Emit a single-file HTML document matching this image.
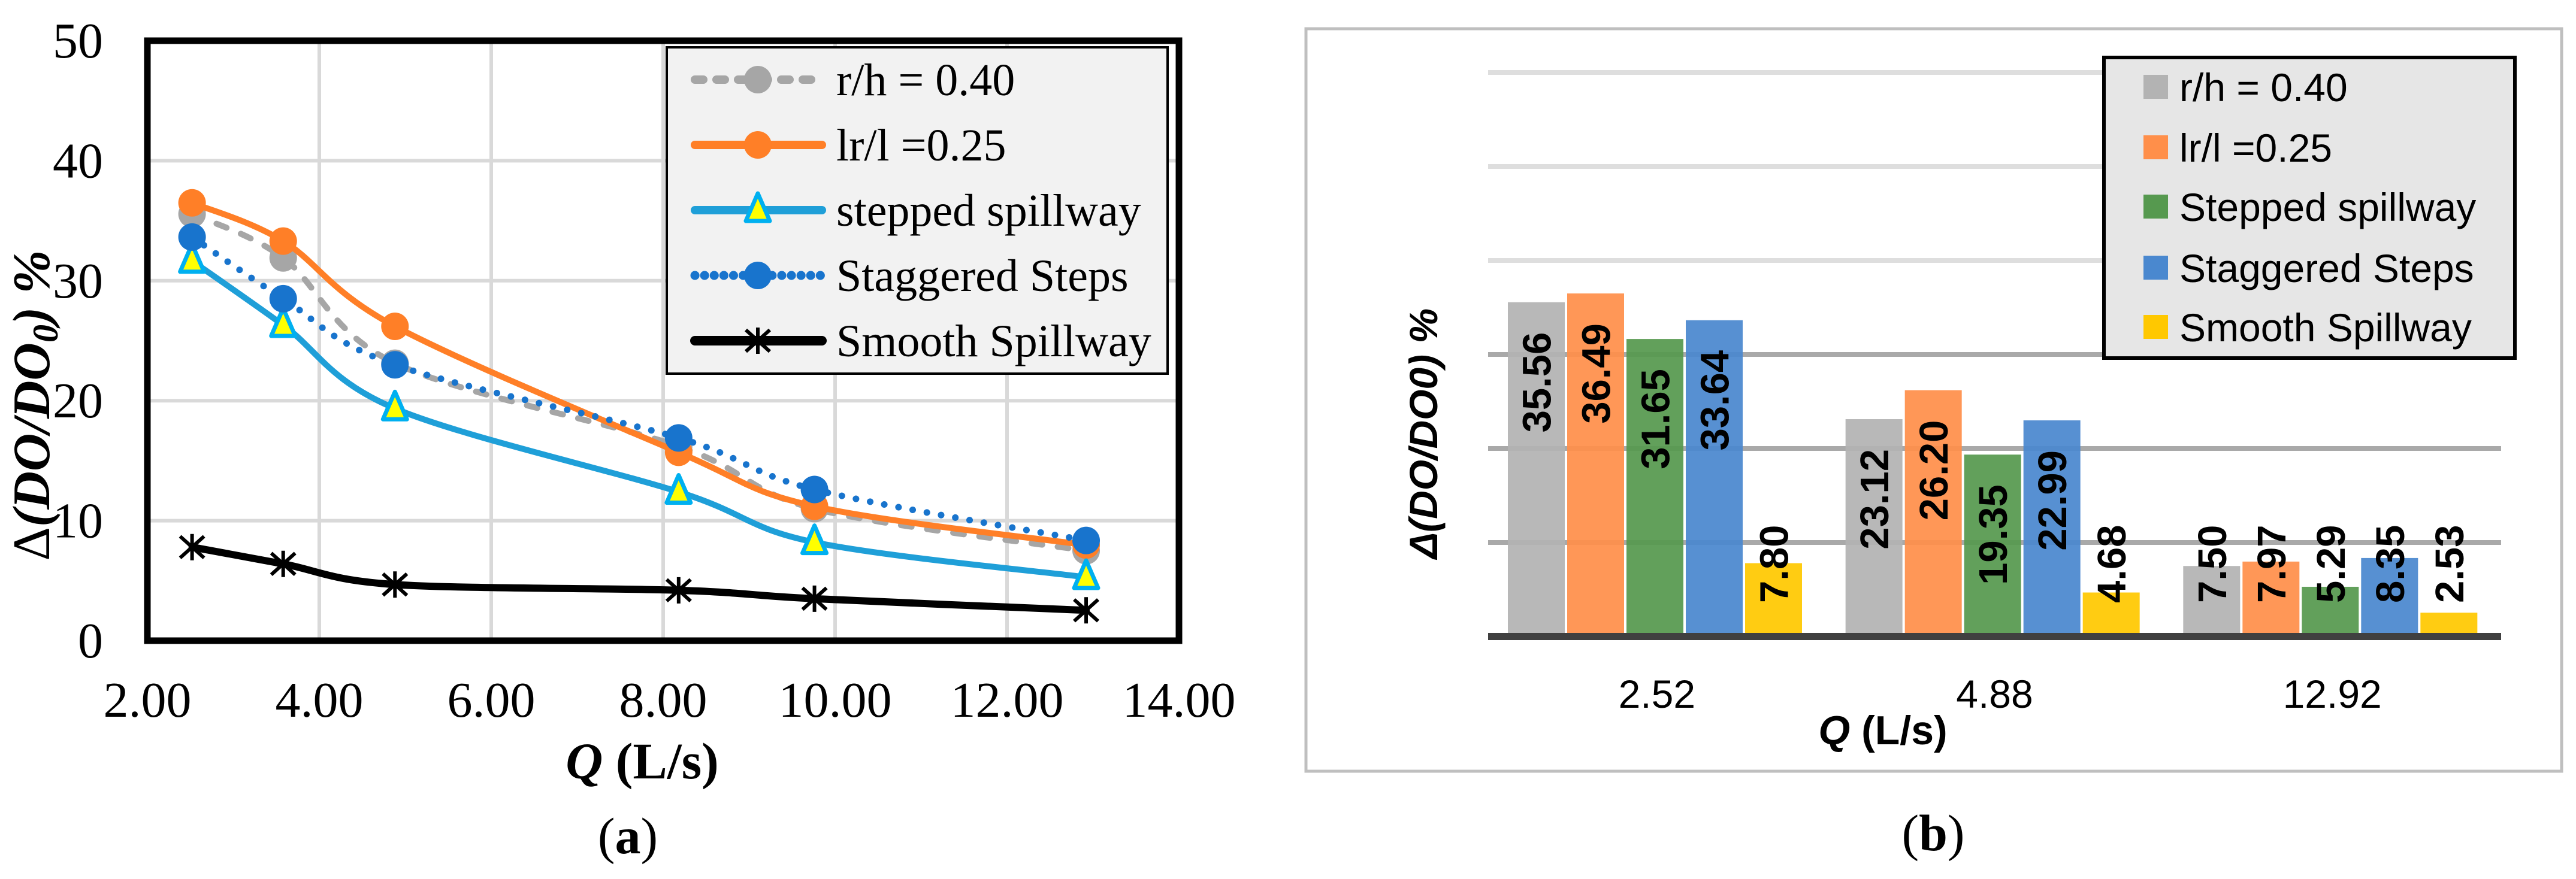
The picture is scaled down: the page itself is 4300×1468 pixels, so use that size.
<!DOCTYPE html>
<html><head><meta charset="utf-8"><style>
html,body{margin:0;padding:0;background:#fff;}
svg{display:block;}
</style></head><body>
<svg id="fig" xmlns="http://www.w3.org/2000/svg" width="4300" height="1468" viewBox="0 0 4300 1468">
<rect width="4300" height="1468" fill="#fff"/>
<g id="left"></g>
<g id="right"></g>
</svg>
<script>
// ---------- chart (a) data ----------
const lineX = [2.52, 3.58, 4.88, 8.18, 9.76, 12.92];
const rhVals = [35.56, 31.9, 23.12, 16.2, 11.0, 7.50];
const lrVals = [36.49, 33.3, 26.20, 15.7, 11.2, 7.97];
const stepVals = [31.65, 26.3, 19.35, 12.4, 8.2, 5.29];
const stagVals = [33.64, 28.5, 22.99, 16.9, 12.6, 8.35];
const smoothVals = [7.80, 6.4, 4.68, 4.2, 3.5, 2.53];
const xTicksA = [2, 4, 6, 8, 10, 12, 14];
const xTickLabelsA = ["2.00","4.00","6.00","8.00","10.00","12.00","14.00"];
const yTicksA = [0, 10, 20, 30, 40, 50];
const legendA = ["r/h = 0.40","lr/l =0.25","stepped spillway","Staggered Steps","Smooth Spillway"];
// ---------- chart (b) data ----------
const barCats = ["2.52","4.88","12.92"];
const barRh = [35.56, 23.12, 7.50];
const barLr = [36.49, 26.20, 7.97];
const barStep = [31.65, 19.35, 5.29];
const barStag = [33.64, 22.99, 8.35];
const barSmooth = [7.80, 4.68, 2.53];
const yTicksB = [10, 20, 30, 40, 50, 60];
const legendB = ["r/h = 0.40","lr/l =0.25","Stepped spillway","Staggered Steps","Smooth Spillway"];

const NS = "http://www.w3.org/2000/svg";
function mk(tag, attrs, parent){ const e=document.createElementNS(NS,tag); for(const k in attrs) e.setAttribute(k,attrs[k]); if(parent) parent.appendChild(e); return e; }

// ===== chart a =====
const L = document.getElementById('left');
const ax = {x0:246, x1:1968, y0:1070, y1:68};
const xA = v => ax.x0 + (v-2)/(14-2)*(ax.x1-ax.x0);
const yA = v => ax.y0 - v/50*(ax.y0-ax.y1);

xTicksA.forEach((t,i)=>{
  if(i>0 && i<xTicksA.length-1){
    const g=mk('line',{x1:xA(t),x2:xA(t),y1:ax.y1,y2:ax.y0,stroke:'#d9d9d9','stroke-width':6},L);
    
    
  }
  const tl=mk('text',{x:xA(t),y:1197,'text-anchor':'middle','font-family':'Liberation Serif, serif','font-size':84,fill:'#000'},L);
  tl.textContent=xTickLabelsA[i];
  
  
});
yTicksA.forEach(t=>{
  if(t>0 && t<50){
    const g=mk('line',{x1:ax.x0,x2:ax.x1,y1:yA(t),y2:yA(t),stroke:'#d9d9d9','stroke-width':6},L);
    
    
  }
  const tl=mk('text',{x:172,y:yA(t)+28,'text-anchor':'end','font-family':'Liberation Serif, serif','font-size':84,fill:'#000'},L);
  tl.textContent=String(t);
  
  
});

function smoothPath(pts){
  let d=`M${pts[0][0]},${pts[0][1]}`;
  for(let i=0;i<pts.length-1;i++){
    const p0=pts[Math.max(0,i-1)],p1=pts[i],p2=pts[i+1],p3=pts[Math.min(pts.length-1,i+2)];
    const c1=[p1[0]+(p2[0]-p0[0])/6,p1[1]+(p2[1]-p0[1])/6];
    const c2=[p2[0]-(p3[0]-p1[0])/6,p2[1]-(p3[1]-p1[1])/6];
    d+=` C${c1[0]},${c1[1]} ${c2[0]},${c2[1]} ${p2[0]},${p2[1]}`;
  }
  return d;
}
function circle(p,x,y,c){ return mk('circle',{cx:x,cy:y,r:23,fill:c},p); }
function tri(p,x,y){ return mk('polygon',{points:`${x},${y-28} ${x-20},${y+18} ${x+20},${y+18}`,fill:'#ffff00',stroke:'#00b0f0','stroke-width':7,'stroke-linejoin':'round'},p); }
function star(p,x,y){
  const g=mk('g',{stroke:'#000','stroke-width':6,fill:'none'},p);
  mk('line',{x1:x,y1:y-22,x2:x,y2:y+22},g);
  mk('line',{x1:x-20,y1:y-18,x2:x+20,y2:y+18},g);
  mk('line',{x1:x-20,y1:y+18,x2:x+20,y2:y-18},g);
  return g;
}
const seriesA = [
  {name:'series-rh', vals:rhVals, color:'#a6a6a6', dash:'18 26', w:10, mark:'c'},
  {name:'series-lr', vals:lrVals, color:'#ff7f27', dash:null, w:10, mark:'c'},
  {name:'series-stepped', vals:stepVals, color:'#1f9fd8', dash:null, w:10, mark:'t'},
  {name:'series-staggered', vals:stagVals, color:'#1874cd', dash:'0.1 24', w:11, mark:'c'},
  {name:'series-smooth', vals:smoothVals, color:'#000', dash:null, w:12, mark:'s'}
];
seriesA.forEach(s=>{
  const g=mk('g',{},L);
  
  
  const pts=s.vals.map((v,i)=>[xA(lineX[i]),yA(v)]);
  const path=mk('path',{d:smoothPath(pts),fill:'none',stroke:s.color,'stroke-width':s.w,'stroke-linecap':'round','stroke-linejoin':'round'},g);
  if(s.dash) path.setAttribute('stroke-dasharray',s.dash);
  
  
  pts.forEach(p=>{
    let m;
    if(s.mark==='c') m=circle(g,p[0],p[1],s.color);
    else if(s.mark==='t') m=tri(g,p[0],p[1]);
    else m=star(g,p[0],p[1]);
    
    
  });
});
// plot border
const brd=mk('rect',{x:ax.x0,y:ax.y1,width:ax.x1-ax.x0,height:ax.y0-ax.y1,fill:'none',stroke:'#000','stroke-width':11},L);


// legend a
const lgA=mk('g',{},L);


mk('rect',{x:1113,y:79,width:836,height:545,fill:'#f2f2f2',stroke:'#000','stroke-width':4},lgA);
const lgYA=[133,242,351,460,569];
legendA.forEach((t,i)=>{
  const s=seriesA[i], y=lgYA[i];
  const e=mk('g',{},lgA);
  
  
  const ln=mk('line',{x1:1160,x2:1372,y1:y,y2:y,stroke:s.color,'stroke-width':s.w+4,'stroke-linecap':'round'},e);
  if(s.dash) ln.setAttribute('stroke-dasharray', s.mark==='c'&&s.dash.startsWith('0.1')?'0.1 16':'14 22');
  if(s.mark==='c') circle(e,1265,y,s.color);
  else if(s.mark==='t') tri(e,1265,y);
  else star(e,1265,y);
  const tx=mk('text',{x:1396,y:y+26,'font-family':'Liberation Serif, serif','font-size':76,fill:'#000'},e);
  tx.textContent=t;
});
// axis titles a
const yt=mk('text',{transform:'translate(82,677) rotate(-90)','text-anchor':'middle','font-family':'Liberation Serif, serif','font-size':88,'font-weight':'bold','font-style':'italic',fill:'#000'},L);
yt.innerHTML='<tspan font-style="normal" font-weight="normal">Δ</tspan>(DO/DO<tspan font-size="60" dy="14">0</tspan><tspan dy="-14">) %</tspan>';


const xt=mk('text',{x:1072,y:1300,'text-anchor':'middle','font-family':'Liberation Serif, serif','font-size':86,'font-weight':'bold',fill:'#000'},L);
xt.innerHTML='<tspan font-style="italic">Q</tspan> (L/s)';


const ca=mk('text',{x:1048,y:1425,'text-anchor':'middle','font-family':'Liberation Serif, serif','font-size':86,fill:'#000'},L);
ca.innerHTML='(<tspan font-weight="bold">a</tspan>)';



// ===== chart b =====
const R=document.getElementById('right');
const fr=mk('rect',{x:2180,y:48,width:2096,height:1240,fill:'#fff',stroke:'#bfbfbf','stroke-width':5},R);


const bx={x0:2484,x1:4175,y0:1063};
const unit=15.7;
const yB=v=>bx.y0-v*unit;
yTicksB.forEach(t=>{
  const g=mk('line',{x1:bx.x0,x2:bx.x1,y1:yB(t),y2:yB(t),stroke:t<=30?'#a9a9a9':'#dedede','stroke-width':8},R);
  
  
});
const seriesB=[
  {name:'bar-rh',vals:barRh,color:'#b3b3b3'},
  {name:'bar-lr',vals:barLr,color:'#ff8f4a'},
  {name:'bar-stepped',vals:barStep,color:'#56994f'},
  {name:'bar-staggered',vals:barStag,color:'#4a88cf'},
  {name:'bar-smooth',vals:barSmooth,color:'#ffc800'}
];
const catW=(bx.x1-bx.x0)/barCats.length;
const step=99, bw=95, off=33;
barCats.forEach((c,ci)=>{
  seriesB.forEach((s,si)=>{
    const v=s.vals[ci];
    const x=bx.x0+ci*catW+off+si*step;
    const r=mk('rect',{x:x,y:yB(v),width:bw,height:v*unit,fill:s.color,'fill-opacity':0.93},R);
    
    
    const cx=x+bw/2;
    const t=mk('text',{'font-family':'Liberation Sans, sans-serif','font-size':67,'font-weight':'bold',fill:'#000','text-anchor':'end'},R);
    t.textContent=v.toFixed(2);
    
    
    let top=yB(v)+50;
    const len=t.getComputedTextLength()||167;
    if(top+len>1007) top=1007-len;
    t.setAttribute('transform',`translate(${cx+24},${top}) rotate(-90)`);
  });
  const cl=mk('text',{x:bx.x0+ci*catW+catW/2,y:1182,'text-anchor':'middle','font-family':'Liberation Sans, sans-serif','font-size':66,fill:'#000'},R);
  cl.textContent=c;
  
  
});
const base=mk('line',{x1:bx.x0,x2:bx.x1,y1:1063,y2:1063,stroke:'#404040','stroke-width':12},R);


// legend b
const lgB=mk('g',{},R);


mk('rect',{x:3512,y:96,width:686,height:502,fill:'#e6e6e6',stroke:'#000','stroke-width':6},lgB);
const lgYB=[145,246,345,447,546];
legendB.forEach((t,i)=>{
  const e=mk('g',{},lgB);
  
  
  mk('rect',{x:3578,y:lgYB[i]-20,width:41,height:40,fill:seriesB[i].color},e);
  const tx=mk('text',{x:3638,y:lgYB[i]+24,'font-family':'Liberation Sans, sans-serif','font-size':66,fill:'#000'},e);
  tx.textContent=t;
});
const ytb=mk('text',{transform:'translate(2399,724) rotate(-90)','text-anchor':'middle','font-family':'Liberation Sans, sans-serif','font-size':66,'font-weight':'bold','font-style':'italic',fill:'#000'},R);
ytb.textContent='Δ(DO/DO0) %';


const xtb=mk('text',{x:3143,y:1243,'text-anchor':'middle','font-family':'Liberation Sans, sans-serif','font-size':68,'font-weight':'bold',fill:'#000'},R);
xtb.innerHTML='<tspan font-style="italic">Q</tspan> (L/s)';


const cb=mk('text',{x:3227,y:1420,'text-anchor':'middle','font-family':'Liberation Serif, serif','font-size':86,fill:'#000'},R);
cb.innerHTML='(<tspan font-weight="bold">b</tspan>)';


</script>
</body></html>
